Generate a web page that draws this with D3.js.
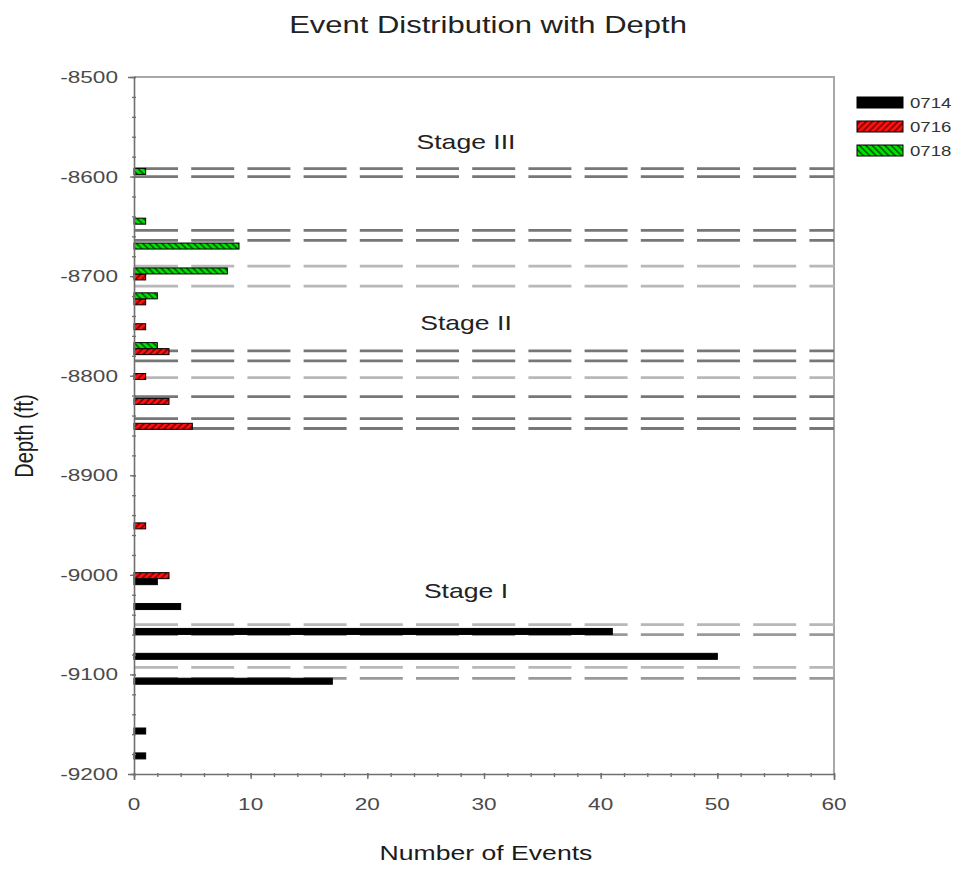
<!DOCTYPE html>
<html>
<head>
<meta charset="utf-8">
<script src="https://cdn.jsdelivr.net/npm/d3@7/dist/d3.min.js"></script>
<style>
  html, body { margin: 0; padding: 0; background: #fff; }
  svg text { font-family: "Liberation Sans", Arial, Helvetica, sans-serif; }
</style>
</head>
<body>
<svg id="chart" width="961" height="869"></svg>
<script>
// Event counts per 25-ft depth bin, one list pair per treatment stage date
const series = ["0714", "0716", "0718"];
const depths0714 = [-9000, -9025, -9050, -9075, -9100, -9150, -9175];
const events0714 = [2, 4, 41, 50, 17, 1, 1];
const depths0716 = [-8700, -8725, -8750, -8775, -8800, -8825, -8850, -8950, -9000];
const events0716 = [1, 1, 1, 3, 1, 3, 5, 1, 3];
const depths0718 = [-8600, -8650, -8675, -8700, -8725, -8775];
const events0718 = [1, 1, 9, 8, 2, 2];

// Perforation interval markers (dashed lines) and their shade
const perfDepths = [-8592, -8600, -8654, -8664, -8690, -8710, -8775, -8785, -8802, -8821, -8843, -8853, -9050, -9060, -9093, -9104];
const perfShade  = ["dark", "dark", "dark", "dark", "light", "light", "dark", "dark", "light", "dark", "dark", "dark", "light", "mid", "light", "mid"];

// Stage annotations
const stageNames  = ["Stage III", "Stage II", "Stage I"];
const stageDepths = [-8565, -8747, -9016];

// Axis ticks
const yTicks = [-8500, -8600, -8700, -8800, -8900, -9000, -9100, -9200];
const yMinorTicks = d3.range(-8500, -9201, -20);
const xTicks = [0, 10, 20, 30, 40, 50, 60];
const xMinorTicks = d3.range(0, 61, 2);

const SX = 1.33; // horizontal stretch of all lettering

const svg = d3.select("#chart");

const x = d3.scaleLinear().domain([0, 60]).range([134, 834]);
const y = d3.scaleLinear().domain([-8500, -9200]).range([77, 774]);
// offset of each series inside a depth bin (top to bottom: 0718, 0716, 0714)
const sub = d3.scaleBand().domain(["0718", "0716", "0714"]).range([-8.2, 9.8]).paddingInner(0);

// hatch patterns
const defs = svg.append("defs");
function hatch(id, bg, fg, angle) {
  const p = defs.append("pattern")
    .attr("id", id).attr("patternUnits", "userSpaceOnUse")
    .attr("width", 4.5).attr("height", 4.5)
    .attr("patternTransform", `rotate(${angle})`);
  p.append("rect").attr("width", 4.5).attr("height", 4.5).attr("fill", bg);
  p.append("rect").attr("width", 1.8).attr("height", 4.5).attr("fill", fg);
}
hatch("hatchRed", "#ff1010", "#8a0000", 45);
hatch("hatchGreen", "#00e000", "#006a00", -45);

const fills = { "0714": "#000", "0716": "url(#hatchRed)", "0718": "url(#hatchGreen)" };

function stretchedText(g, tx, ty, str, opts) {
  return g.append("text")
    .attr("transform", `translate(${tx},${ty}) scale(${SX},1)` + (opts.rotate ? ` rotate(${opts.rotate})` : ""))
    .attr("text-anchor", opts.anchor || "middle")
    .attr("font-size", opts.size)
    .attr("fill", opts.color || "#222")
    .text(str);
}

// frame (top and right)
svg.append("path")
  .attr("d", `M${x(0)},${y(-8500)}H${x(60)}V${y(-9200)}`)
  .attr("fill", "none").attr("stroke", "#a8a8a8").attr("stroke-width", 2);

// dashed perforation lines
const shadeColor = { dark: "#777", mid: "#999", light: "#b8b8b8" };
svg.append("g").selectAll("line")
  .data(perfDepths.map((d, i) => ({ d, s: perfShade[i] })))
  .join("line")
  .attr("x1", x(0) + 1).attr("x2", x(60))
  .attr("y1", d => y(d.d)).attr("y2", d => y(d.d))
  .attr("stroke", d => shadeColor[d.s])
  .attr("stroke-width", 2.8)
  .attr("stroke-dasharray", "43,13.2");

// bars
const barData = [
  ...depths0714.map((d, i) => ({ s: "0714", d, v: events0714[i] })),
  ...depths0716.map((d, i) => ({ s: "0716", d, v: events0716[i] })),
  ...depths0718.map((d, i) => ({ s: "0718", d, v: events0718[i] }))
];
svg.append("g").selectAll("rect")
  .data(barData)
  .join("rect")
  .attr("x", x(0))
  .attr("y", d => y(d.d) + sub(d.s))
  .attr("width", d => x(d.v) - x(0))
  .attr("height", sub.bandwidth())
  .attr("fill", d => fills[d.s])
  .attr("stroke", "#000")
  .attr("stroke-width", 1);

// axes
const axisColor = "#707070";
const gy = svg.append("g").attr("transform", `translate(${x(0)},0)`);
gy.append("g").call(d3.axisLeft(y).tickValues(yMinorTicks).tickSize(4).tickFormat(""))
  .call(g => g.select(".domain").remove());
gy.append("g").call(d3.axisLeft(y).tickValues(yTicks).tickSize(6).tickFormat(""));
gy.selectAll("line").attr("stroke", axisColor).attr("stroke-width", 1.3).attr("transform", "translate(2,0)");
gy.selectAll(".domain").attr("stroke", axisColor).attr("stroke-width", 1.6);

const gx = svg.append("g").attr("transform", `translate(0,${y(-9200)})`);
gx.append("g").call(d3.axisBottom(x).tickValues(xMinorTicks).tickSize(4).tickFormat(""))
  .call(g => g.select(".domain").remove());
gx.append("g").call(d3.axisBottom(x).tickValues(xTicks).tickSize(6).tickFormat(""));
gx.selectAll("line").attr("stroke", axisColor).attr("stroke-width", 1.3).attr("transform", "translate(0,-1)");
gx.selectAll(".domain").attr("stroke", axisColor).attr("stroke-width", 1.6);

// tick labels
const labels = svg.append("g");
yTicks.forEach(v => stretchedText(labels, 118, y(v) + 6, String(v), { size: 17, anchor: "end", color: "#4a4a4a" }));
xTicks.forEach(v => stretchedText(labels, x(v), 810, String(v), { size: 17, color: "#4a4a4a" }));

// titles
stretchedText(svg, 488, 33, "Event Distribution with Depth", { size: 23.3, color: "#222" });
stretchedText(svg, 486, 860, "Number of Events", { size: 20, color: "#1a1a1a" });
stretchedText(svg, 33, 436, "Depth (ft)", { size: 20, color: "#1a1a1a", rotate: -90 });

// stage labels
stageNames.forEach((s, i) => stretchedText(svg, 466, y(stageDepths[i]) + 7, s, { size: 20, color: "#222" }));

// legend
const legend = svg.append("g");
series.forEach((s, i) => {
  const ly = 97 + i * 24;
  legend.append("rect").attr("x", 857).attr("y", ly).attr("width", 46).attr("height", 11)
    .attr("fill", fills[s]).attr("stroke", "#000").attr("stroke-width", 1);
  stretchedText(legend, 910, ly + 11, s, { size: 14, anchor: "start", color: "#333" });
});
</script>
</body>
</html>
